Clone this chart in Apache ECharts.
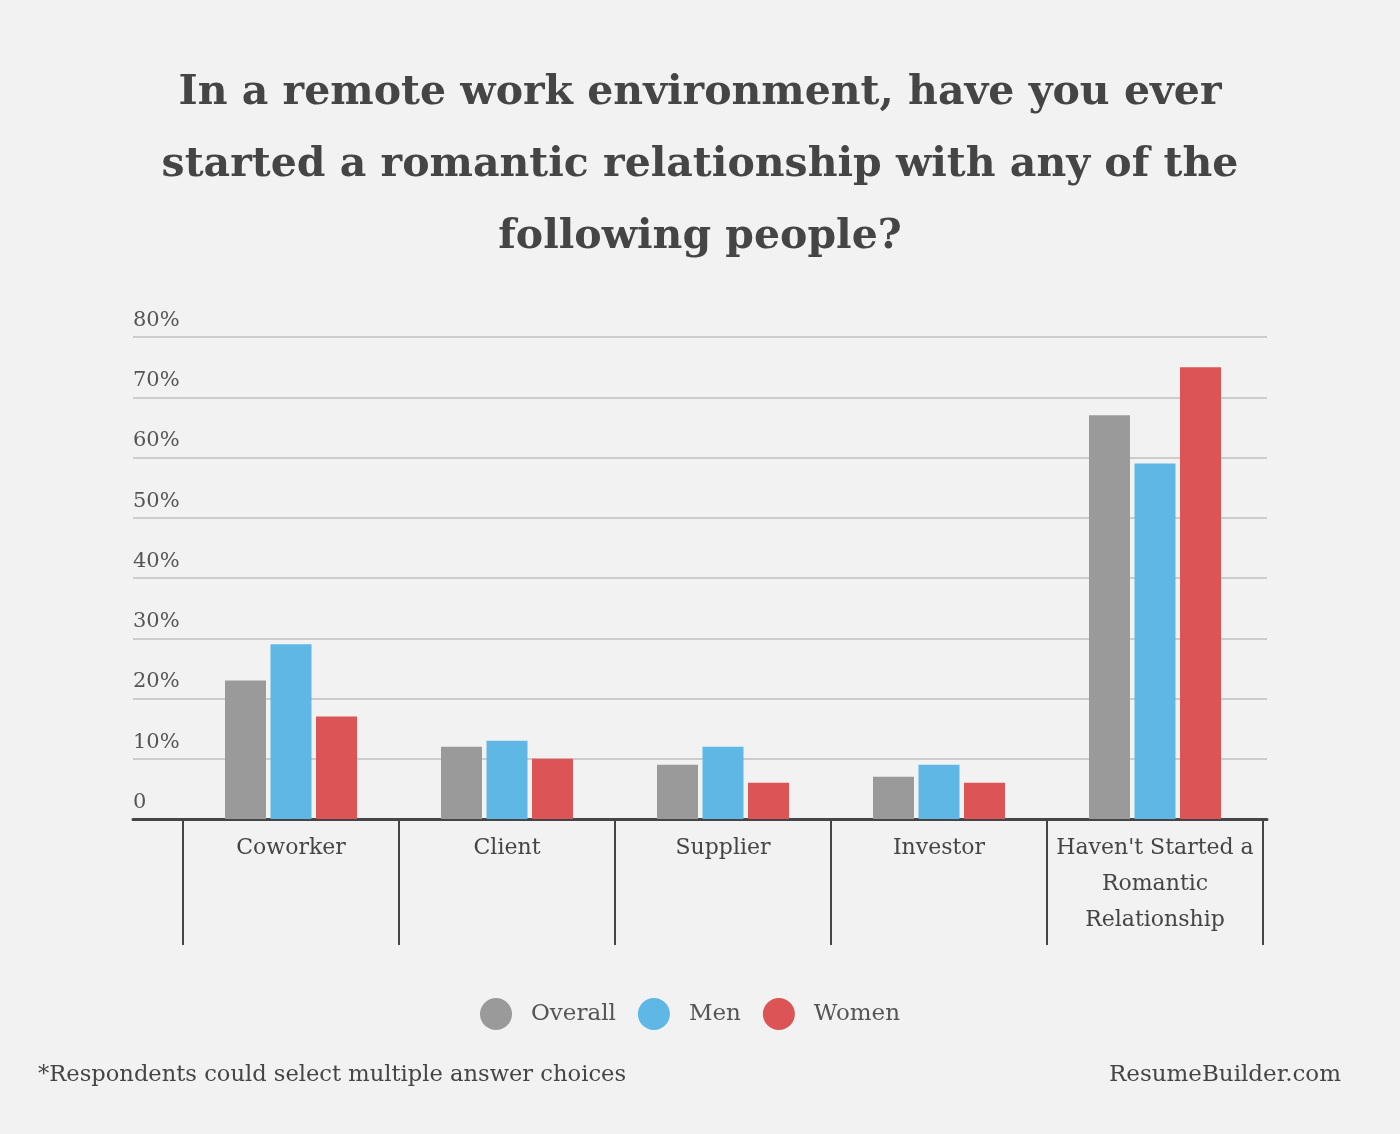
<!DOCTYPE html>
<html>
<head>
<meta charset="utf-8">
<script src="https://cdn.jsdelivr.net/npm/echarts@6/dist/echarts.min.js"></script>
<style>
  html, body { margin: 0; padding: 0; background: #f2f2f2; }
  #main { width: 1400px; height: 1134px; }
</style>
</head>
<body>
<div id="main"></div>
<script>
const categories = ['Coworker', 'Client', 'Supplier', 'Investor', "Haven't Started a\nRomantic\nRelationship"];
const overall = [23, 12, 9, 7, 67];
const men = [29, 13, 12, 9, 59];
const women = [17, 10, 6, 6, 75];
const legendNames = ['Overall', 'Men', 'Women'];

const font = 'DejaVu Serif';
const myChart = echarts.init(document.getElementById('main'));

const option = {
    backgroundColor: '#f2f2f2',
    title: {
        text: 'In a remote work environment, have you ever\nstarted a romantic relationship with any of the\nfollowing people?',
        left: 'center',
        top: 52,
        textStyle: {
            fontFamily: font,
            fontWeight: 'bold',
            fontSize: 41,
            lineHeight: 72,
            color: '#454545',
            align: 'center'
        }
    },
    legend: {
        data: legendNames,
        bottom: 104,
        left: 480,
        padding: 0,
        icon: 'circle',
        itemWidth: 32,
        itemHeight: 32,
        itemGap: 22,
        textStyle: {
            fontFamily: font,
            fontSize: 23,
            color: '#555',
            padding: [0, 0, 0, 14]
        }
    },
    grid: [
        { left: 133, right: 133, top: 337, bottom: 315 },
        { left: 183, right: 137, top: 337, bottom: 315 }
    ],
    xAxis: [
        {
            type: 'value',
            gridIndex: 0,
            min: 0,
            max: 1,
            axisLine: { show: true, lineStyle: { color: '#454545', width: 3 } },
            axisTick: { show: false },
            axisLabel: { show: false },
            splitLine: { show: false }
        },
        {
            type: 'category',
            gridIndex: 1,
            data: categories,
            axisLine: { show: false },
            axisTick: { show: true, length: 126, lineStyle: { color: '#454545', width: 2 } },
            axisLabel: {
                interval: 0,
                margin: 11,
                fontFamily: font,
                fontSize: 22,
                lineHeight: 36,
                color: '#454545',
                verticalAlign: 'top'
            }
        }
    ],
    yAxis: [
        {
            type: 'value',
            gridIndex: 0,
            min: 0,
            max: 80,
            interval: 10,
            axisLine: { show: false },
            axisTick: { show: false },
            splitLine: { lineStyle: { color: '#cccccc', width: 2 } },
            axisLabel: {
                inside: true,
                margin: 0,
                align: 'left',
                verticalAlign: 'bottom',
                padding: [0, 0, 6, 0],
                fontFamily: font,
                fontSize: 21,
                color: '#555',
                formatter: v => (v === 0 ? '0' : v + '%')
            }
        },
        {
            type: 'value',
            gridIndex: 1,
            min: 0,
            max: 80,
            show: false
        }
    ],
    series: [
        { name: 'Overall', type: 'bar', xAxisIndex: 1, yAxisIndex: 1, data: overall, barWidth: 41, barGap: '11%', itemStyle: { color: '#9a9a9a' } },
        { name: 'Men', type: 'bar', xAxisIndex: 1, yAxisIndex: 1, data: men, barWidth: 41, barGap: '11%', itemStyle: { color: '#5eb7e4' } },
        { name: 'Women', type: 'bar', xAxisIndex: 1, yAxisIndex: 1, data: women, barWidth: 41, barGap: '11%', itemStyle: { color: '#dc5455' } }
    ],
    graphic: [
        {
            type: 'text',
            left: 38,
            top: 1064,
            style: { text: '*Respondents could select multiple answer choices', fontFamily: font, fontSize: 22.6, fill: '#454545' }
        },
        {
            type: 'text',
            right: 59,
            top: 1064,
            style: { text: 'ResumeBuilder.com', fontFamily: font, fontSize: 23, fill: '#454545' }
        }
    ]
};

myChart.setOption(option);
</script>
</body>
</html>
